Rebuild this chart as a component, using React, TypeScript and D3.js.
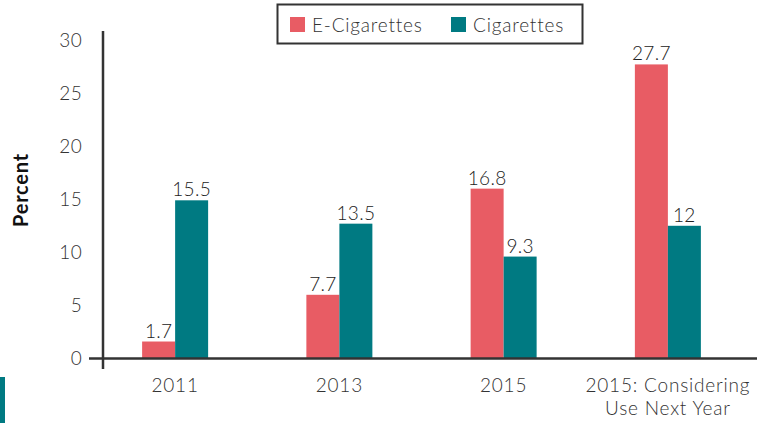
import React from 'react';
import * as d3 from 'd3';

// chart data
const categories = ['2011', '2013', '2015', '2015: Considering\nUse Next Year'];
const seriesNames = ['E-Cigarettes', 'Cigarettes'];
const eCigValues = [1.6, 6.0, 16.0, 27.7];
const cigValues = [14.9, 12.7, 9.6, 12.5];
const eCigLabels = ['1.7', '7.7', '16.8', '27.7'];
const cigLabels = ['15.5', '13.5', '9.3', '12'];
const yTicks = [0, 5, 10, 15, 20, 25, 30];

const colors = ['#E85C64', '#007A82'];
const font = 'Lato, "Open Sans", sans-serif';
const ink = '#333';

const W = 772;
const H = 423;

export default function App() {
    const x = d3.scaleBand<string>().domain(categories).range([93, 750]).padding(0);
    const y = d3.scaleLinear().domain([0, 30]).range([358.5, 40]);
    const barW = 33;
    const series = [eCigValues, cigValues];
    const labels = [eCigLabels, cigLabels];
    const txt = { fontSize: 19, fontWeight: 300, letterSpacing: 0.8 };

    return (
        <svg width={W} height={H} style={{ position: 'absolute', left: 0, top: 0 }} fontFamily={font}>
            <rect x={0} y={377} width={5} height={H - 377} fill={colors[1]} />

            {/* y axis */}
            <line x1={103} x2={103} y1={31} y2={369} stroke={ink} strokeWidth={2.5} />
            {yTicks.map(t => (
                <text key={t} x={82} y={y(t)} dy="0.36em" textAnchor="end" {...txt} letterSpacing={0.3} fill={ink}>
                    {t}
                </text>
            ))}
            <text transform={`translate(28,${190}) rotate(-90)`} textAnchor="middle" fontSize={20} fontWeight={700} letterSpacing={0.8} fill="#111">
                Percent
            </text>

            {/* bars */}
            {categories.map((c, i) => {
                const cx = (x(c) as number) + x.bandwidth() / 2;
                return (
                    <g key={c}>
                        {series.map((vals, s) => {
                            const bx = cx - barW + s * barW;
                            return (
                                <g key={s}>
                                    <rect x={bx} y={y(vals[i])} width={barW} height={y(0) - y(vals[i])} fill={colors[s]} />
                                    <text x={bx + barW / 2} y={y(vals[i]) - 4} textAnchor="middle" {...txt} letterSpacing={0.3} fill="#222">
                                        {labels[s][i]}
                                    </text>
                                </g>
                            );
                        })}
                        {c.split('\n').map((line, li) => (
                            <text key={li} x={cx} y={392 + li * 23} textAnchor="middle" {...txt} fill={ink}>
                                {line}
                            </text>
                        ))}
                    </g>
                );
            })}

            {/* x axis */}
            <line x1={89} x2={757} y1={358.5} y2={358.5} stroke={ink} strokeWidth={2.5} />

            {/* legend */}
            <rect x={277.5} y={4.5} width={305} height={39} fill="#fff" stroke={ink} strokeWidth={2} />
            {seriesNames.map((n, i) => {
                const lx = i === 0 ? 290 : 451;
                return (
                    <g key={n}>
                        <rect x={lx} y={17} width={15} height={15} fill={colors[i]} />
                        <text x={lx + 22} y={32} {...txt} fill={ink}>{n}</text>
                    </g>
                );
            })}
        </svg>
    );
}
